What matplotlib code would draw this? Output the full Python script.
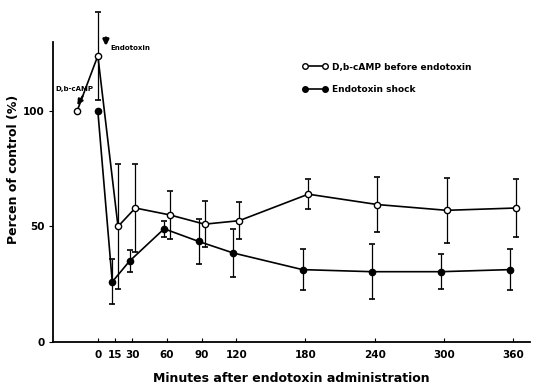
import matplotlib
matplotlib.use("Agg")
import matplotlib.pyplot as plt
from matplotlib.lines import Line2D

plt.rcParams['font.family'] = ['DejaVu Sans Condensed', 'Liberation Sans Narrow', 'DejaVu Sans']

# Data
x_ticks = [0, 15, 30, 60, 90, 120, 180, 240, 300, 360]
open_x = [-18, 0, 15, 30, 60, 90, 120, 180, 240, 300, 360]
open_y = [100, 124, 50, 58, 55, 51, 52.5, 64, 59.5, 57, 58]
open_err = [0, 19, 27, 19, 10.5, 10, 8, 6.5, 12, 14, 12.5]
closed_x = [0, 15, 30, 60, 90, 120, 180, 240, 300, 360]
closed_y = [100, 26, 35, 49, 43.5, 38.5, 31.3, 30.4, 30.4, 31.3]
closed_err = [0, 9.7, 4.6, 3.5, 9.7, 10.5, 9, 12, 7.5, 9]
y_ticks = [0, 50, 100]

fig = plt.figure(figsize=(5.34, 3.88), dpi=100)
ax = fig.add_axes([0.099, 0.119, 0.894, 0.773])

off = 2.5
ox = [v + (off if v > 0 else 0) for v in open_x]
cx = [v - (off if v > 0 else 0) for v in closed_x]

for xs, ys, es, fc in [(ox, open_y, open_err, 'white'), (cx, closed_y, closed_err, 'black')]:
    eb = ax.errorbar(xs, ys, yerr=es,
                     fmt='-o', color='black', mfc=fc, mec='black', ms=4.5, lw=1.2,
                     elinewidth=0.9, capsize=2.5, capthick=1.2, zorder=3)
    for art in eb.lines[1]:
        art.set_clip_on(False)
    for art in eb.lines[2]:
        art.set_clip_on(False)
    eb.lines[0].set_clip_on(False)

ax.set_xlim(-39, 375)
ax.set_ylim(0, 130)
ax.spines['top'].set_visible(False)
ax.spines['right'].set_visible(False)
ax.spines['left'].set_bounds(0, 130)
ax.spines['left'].set_linewidth(1.3)
ax.spines['bottom'].set_linewidth(1.3)
ax.set_xticks(x_ticks)
ax.set_xticklabels([str(t) for t in x_ticks], fontsize=7.5, fontweight='bold')
ax.set_yticks(y_ticks)
ax.set_yticklabels([str(t) for t in y_ticks], fontsize=7.5, fontweight='bold')
ax.tick_params(axis='x', direction='in', length=3, pad=6)
ax.tick_params(axis='y', direction='out', length=3, pad=3)

ax.set_xlabel('Minutes after endotoxin administration', fontsize=9, fontweight='bold')
ax.xaxis.set_label_coords(0.50, -0.100)
ax.set_ylabel('Percen of control (%)', fontsize=9, fontweight='bold')
ax.yaxis.set_label_coords(-0.068, 0.575)

# Annotations
ax.annotate('', xy=(7, 127), xytext=(7, 133),
            arrowprops=dict(arrowstyle='-|>', color='black', lw=2, mutation_scale=8),
            annotation_clip=False)
ax.text(11, 127.3, 'Endotoxin', fontsize=5, fontweight='bold', va='center', ha='left')
ax.text(-37, 109.5, 'D,b-cAMP', fontsize=5, fontweight='bold', va='center', ha='left')
ax.annotate('', xy=(-19, 101.5), xytext=(-12, 107.5),
            arrowprops=dict(arrowstyle='-|>', color='black', lw=1.5, mutation_scale=8))

handles = [
    Line2D([0], [0], color='black', lw=1.2, marker='o', mfc='white', mec='black', ms=4),
    Line2D([0], [0], color='black', lw=1.2, marker='o', mfc='black', mec='black', ms=4),
]
leg = ax.legend(handles, ['D,b-cAMP before endotoxin', 'Endotoxin shock'],
                loc='upper left', bbox_to_anchor=(0.505, 0.958), frameon=False,
                numpoints=2, handlelength=2.8, labelspacing=1.5,
                handletextpad=0.5, prop={'weight': 'bold', 'size': 6.5})

fig.savefig('out.png', dpi=100)
